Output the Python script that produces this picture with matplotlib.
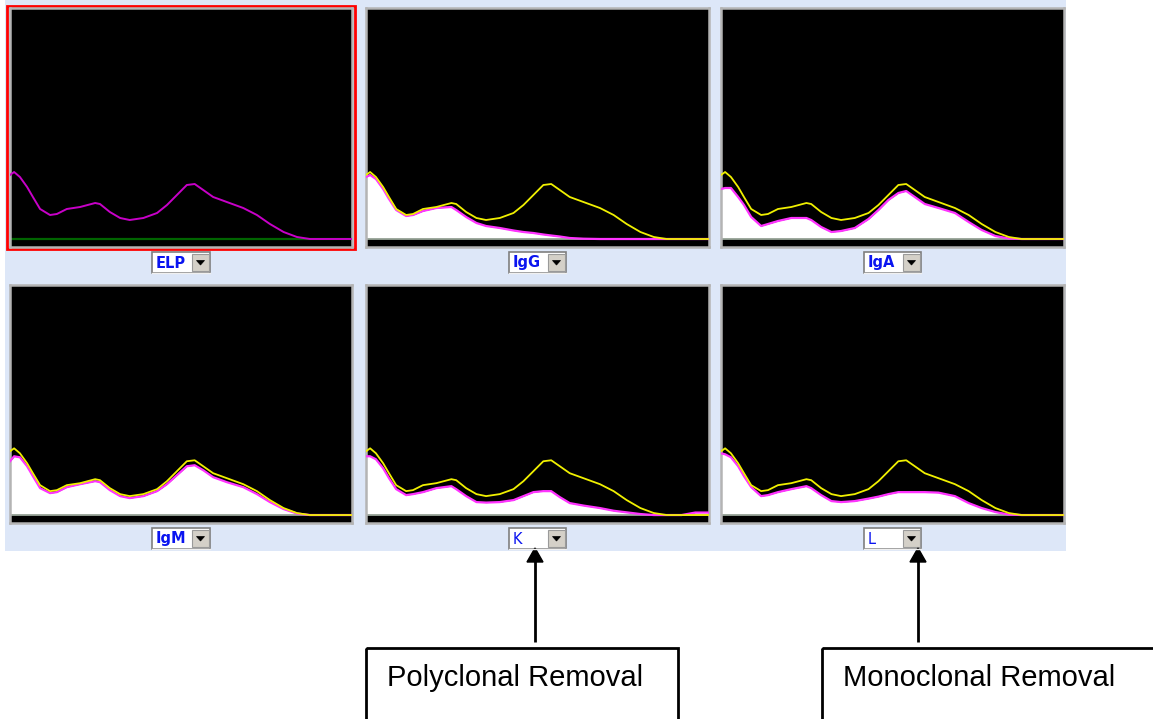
import matplotlib
matplotlib.use("Agg")
import matplotlib.pyplot as plt
from matplotlib.patches import Rectangle, Polygon

# ---------------- data (densitometry traces, arbitrary units) ----------------
x_pos = [0, 1.2, 2.9, 5.0, 6.7, 8.8, 11.7, 13.7, 16.6, 20.5, 24.9, 26.3, 29.2,
         32.2, 35.0, 39.0, 43.0, 45.9, 48.8, 51.7, 54.0, 56.5, 59.4, 63.4,
         68.2, 72.2, 76.0, 80.0, 83.9, 87.7, 92.0, 96.0, 100.0]

elp = [64, 67, 62, 52, 42, 30, 24, 25, 30, 32, 36, 35, 27, 21, 19, 21, 26, 34,
       44, 54, 55, 49, 42, 37, 31, 24, 15, 7, 2, 0, 0, 0, 0]

igg = [62, 64, 60, 50, 40, 29, 23, 24, 28, 31, 32, 29, 22, 16, 13, 11, 8.5, 7,
       6, 4.5, 3.5, 2.5, 1, 0.3, 0, 0, 0, 0, 0, 0, 0, 0, 0]

iga = [50, 51, 51, 42, 34, 22, 13, 15, 18, 21, 21, 19, 12, 7, 8, 11, 20, 29,
       39, 46, 48, 42, 35, 31, 26, 17, 9, 3, 0.5, 0, 0, 0, 0]

igm = [54, 59, 58, 49, 39, 27, 22, 23, 28, 31, 34, 33, 25, 19, 17, 19, 24, 31,
       40, 49, 50, 45, 38, 33, 28, 21, 13, 6, 1.5, 0, 0, 0, 0]

kappa = [59, 59, 56, 47, 37, 26, 20, 21, 23, 27, 29, 26, 19, 13, 12.5, 13, 15,
         19, 23, 24, 24, 18, 12, 9.5, 7, 4.3, 2.7, 1, 0, 0, 0, 2.5, 2.5]

lam = [62, 61, 58, 49, 39, 28, 19, 20, 23, 26, 29, 27, 20, 14, 13, 14, 16.5,
       18.5, 21, 23, 23, 23, 23, 22.5, 19, 12, 7, 3, 0.5, 0, 0, 0, 0]

panel_labels = ["ELP", "IgG", "IgA", "IgM", "K", "L"]
residuals = [None, igg, iga, igm, kappa, lam]
callouts = ["Polyclonal Removal", "Monoclonal Removal"]

# ---------------- figure ----------------
W, H = 1153, 719
fig = plt.figure(figsize=(W / 100, H / 100), dpi=100)
fig.patch.set_facecolor("white")

bg = fig.add_axes([0, 0, 1, 1])
bg.set_xlim(0, W)
bg.set_ylim(H, 0)
bg.axis("off")
bg.set_zorder(0)

# light blue application background
bg.add_patch(Rectangle((5, 0), 1061, 551, facecolor="#dde7f8", edgecolor="none"))

col_x = [(10, 352), (366, 709), (721, 1064)]
row_y = [(8, 247), (285, 523)]
drop_x = [(152, 210), (509, 566), (864, 921)]
drop_y = [(252, 273), (528, 549)]


def dropdown(l, r, t, b, text, bold):
    bg.add_patch(Rectangle((l, t), r - l, b - t, facecolor="white",
                           edgecolor="#7f7f7f", lw=1.2))
    bg.plot([l, r], [b, b], color="#f0f0f0", lw=1)
    bw = 17
    bg.add_patch(Rectangle((r - bw - 1, t + 2), bw, b - t - 4,
                           facecolor="#d4d0c8", edgecolor="#9a9a9a", lw=0.8))
    cx = r - 1 - bw / 2
    cy = (t + b) / 2
    bg.add_patch(Polygon([[cx - 4, cy - 2], [cx + 4, cy - 2], [cx, cy + 2.5]],
                         closed=True, facecolor="black", edgecolor="black", lw=0.5))
    bg.text(l + 4, cy + 0.5, text, color="#0a14f0", fontsize=10.5,
            fontweight="bold" if bold else "normal", va="center", ha="left",
            family="DejaVu Sans")


for i, lab in enumerate(panel_labels):
    r, c = divmod(i, 3)
    l, rr = col_x[c]
    t, b = row_y[r]
    ax = fig.add_axes([l / W, 1 - b / H, (rr - l) / W, (b - t) / H])
    ax.set_zorder(2)
    ax.set_facecolor("black")
    ax.set_xlim(0, 100)
    ax.set_ylim(-8, 231)
    ax.set_xticks([])
    ax.set_yticks([])
    for s in ax.spines.values():
        s.set_color("#b4b4b4")
        s.set_linewidth(1.8)
    res = residuals[i]
    if res is None:
        ax.axhline(0, color="#006400", lw=1.6, zorder=2)
        ax.plot(x_pos, elp, color="#c800c8", lw=1.4, zorder=3)
    else:
        ax.fill_between(x_pos, 0, res, color="white", lw=0, zorder=2)
        ax.axhline(0, color="#8c9a8c", lw=1.2, zorder=2)
        ax.plot(x_pos, res, color="#ff33ff", lw=1.6, zorder=3)
        ax.plot(x_pos, elp, color="#f0f000", lw=1.3, zorder=4)
    dl, dr = drop_x[c]
    dt, db = drop_y[r]
    dropdown(dl, dr, dt, db, lab, bold=(i < 4))

# red selection border around the first panel
bg.add_patch(Rectangle((7, 6), 348, 243, fill=False, edgecolor="#ff0000", lw=2))

# callout arrows and boxes
for ax_x in (535, 918):
    bg.plot([ax_x, ax_x], [642, 560], color="black", lw=2, solid_capstyle="butt")
    bg.add_patch(Polygon([[ax_x, 548], [ax_x - 8, 562], [ax_x + 8, 562]],
                         closed=True, facecolor="black", edgecolor="black"))

bg.add_patch(Rectangle((366, 648), 312, 120, fill=False, edgecolor="black", lw=2))
bg.add_patch(Rectangle((822, 648), 400, 120, fill=False, edgecolor="black", lw=2))
bg.text(387, 686, callouts[0], fontsize=21, family="Liberation Sans",
        va="baseline", ha="left", color="black")
bg.text(843, 686, callouts[1], fontsize=21, family="Liberation Sans",
        va="baseline", ha="left", color="black")

fig.savefig("out.png", dpi=100, facecolor="white")
